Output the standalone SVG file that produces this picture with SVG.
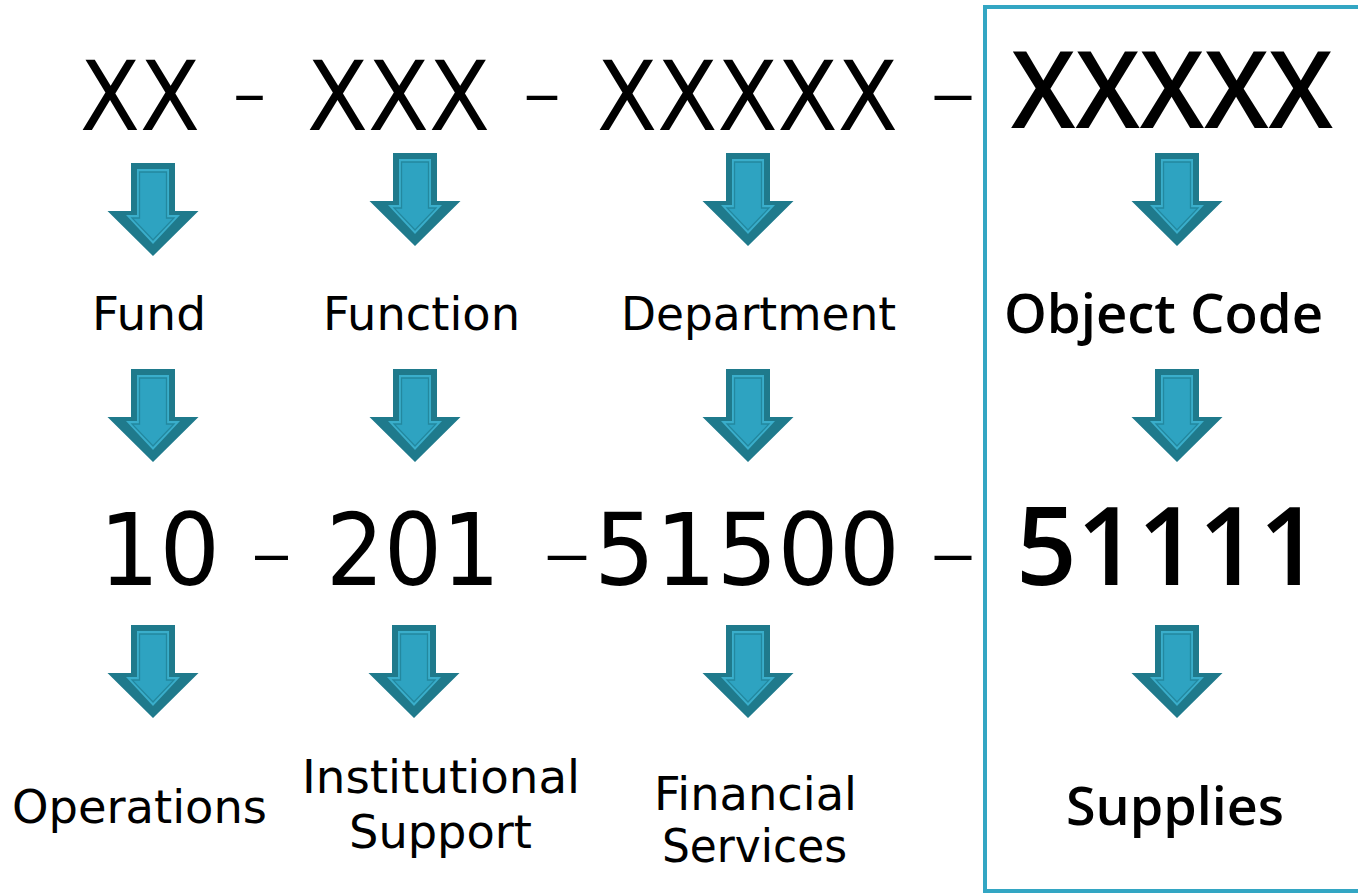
<svg xmlns="http://www.w3.org/2000/svg" xmlns:xlink="http://www.w3.org/1999/xlink" width="1358" height="893" viewBox="0 0 1358 893">
  <style>
    .reg { font-family: "DejaVu Sans", "Liberation Sans", sans-serif; fill: #000; }
    .bold { font-family: "Open Sans", "DejaVu Sans", sans-serif; font-weight: 600; fill: #000; }
    .big { font-size: 96px; }
    .num { font-size: 100px; }
    .dash { font-size: 60px; }
    .lbl { font-size: 46px; }
    .frame { fill: none; stroke: #33a6c3; stroke-width: 4; }
  </style>
  <defs>
    <!-- block arrow pointing down; origin = top centre of the shaft -->
    <g id="down-arrow">
      <polygon points="-22,0 22,0 22,48 45.5,48 0,93 -45.5,48 -22,48" fill="#1f7a8c"/>
      <polygon points="-16,6 16,6 16,52 27,52 0,81 -27,52 -16,52" fill="#3aaecb"/>
      <polygon points="-13.5,9 13.5,9 13.5,55 21,55 0,77 -21,55 -13.5,55" fill="#2ea3c1" stroke="#23889f" stroke-width="1.3"/>
    </g>
  </defs>

  <rect width="1358" height="893" fill="#fff"/>

  <!-- highlight frame around the object-code column -->
  <g id="highlight-frame">
    <rect class="frame" x="985" y="7" width="420" height="884"/>
  </g>

  <!-- account-string template -->
  <g id="template-row">
    <text class="reg big" x="80" y="130" textLength="120" lengthAdjust="spacingAndGlyphs">XX</text>
    <text class="reg dash" x="233" y="115" textLength="33" lengthAdjust="spacingAndGlyphs">–</text>
    <text class="reg big" x="307" y="130" textLength="183" lengthAdjust="spacingAndGlyphs">XXX</text>
    <text class="reg dash" x="523" y="115" textLength="38" lengthAdjust="spacingAndGlyphs">–</text>
    <text class="reg big" x="597" y="130" textLength="301" lengthAdjust="spacingAndGlyphs">XXXXX</text>
    <text class="reg dash" x="930" y="115" textLength="46" lengthAdjust="spacingAndGlyphs">–</text>
    <text class="bold" x="1011" y="128" font-size="106" textLength="322" lengthAdjust="spacingAndGlyphs">XXXXX</text>
  </g>

  <!-- segment names -->
  <g id="fund"><text class="reg lbl" x="92" y="330" textLength="114" lengthAdjust="spacingAndGlyphs">Fund</text></g>
  <g id="function"><text class="reg lbl" x="323" y="330" textLength="197" lengthAdjust="spacingAndGlyphs">Function</text></g>
  <g id="department"><text class="reg lbl" x="621" y="330" textLength="275" lengthAdjust="spacingAndGlyphs">Department</text></g>
  <g id="object-code"><text class="bold" x="1004" y="333" font-size="55" textLength="319" lengthAdjust="spacingAndGlyphs">Object Code</text></g>

  <!-- example account string -->
  <g id="example-row">
    <text class="reg num" x="99" y="585" textLength="121" lengthAdjust="spacingAndGlyphs">10</text>
    <text class="reg dash" x="251" y="575" textLength="41" lengthAdjust="spacingAndGlyphs">–</text>
    <text class="reg num" x="326" y="585" textLength="174" lengthAdjust="spacingAndGlyphs">201</text>
    <text class="reg dash" x="543" y="575" textLength="48" lengthAdjust="spacingAndGlyphs">–</text>
    <text class="reg num" x="594" y="585" textLength="306" lengthAdjust="spacingAndGlyphs">51500</text>
    <text class="reg dash" x="930" y="575" textLength="46" lengthAdjust="spacingAndGlyphs">–</text>
    <text class="bold" x="1016" y="585" font-size="108" textLength="304" lengthAdjust="spacingAndGlyphs">51111</text>
  </g>

  <!-- example meanings -->
  <g id="operations"><text class="reg lbl" x="12" y="823" textLength="255" lengthAdjust="spacingAndGlyphs">Operations</text></g>
  <g id="institutional-support">
    <text class="reg lbl" x="302" y="793" textLength="278" lengthAdjust="spacingAndGlyphs">Institutional</text>
    <text class="reg lbl" x="349" y="848" textLength="183" lengthAdjust="spacingAndGlyphs">Support</text>
  </g>
  <g id="financial-services">
    <text class="reg lbl" x="654" y="810" textLength="203" lengthAdjust="spacingAndGlyphs">Financial</text>
    <text class="reg lbl" x="662" y="862" textLength="185" lengthAdjust="spacingAndGlyphs">Services</text>
  </g>
  <g id="supplies"><text class="bold" x="1066" y="825" font-size="53" textLength="218" lengthAdjust="spacingAndGlyphs">Supplies</text></g>

  <!-- down arrows linking each level -->
  <g id="connectors">
    <use xlink:href="#down-arrow" x="153" y="163"/>
    <use xlink:href="#down-arrow" x="415" y="153"/>
    <use xlink:href="#down-arrow" x="748" y="153"/>
    <use xlink:href="#down-arrow" x="1177" y="153"/>

    <use xlink:href="#down-arrow" x="153" y="369"/>
    <use xlink:href="#down-arrow" x="415" y="369"/>
    <use xlink:href="#down-arrow" x="748" y="369"/>
    <use xlink:href="#down-arrow" x="1177" y="369"/>

    <use xlink:href="#down-arrow" x="153" y="625"/>
    <use xlink:href="#down-arrow" x="414" y="625"/>
    <use xlink:href="#down-arrow" x="748" y="625"/>
    <use xlink:href="#down-arrow" x="1177" y="625"/>
  </g>
</svg>
